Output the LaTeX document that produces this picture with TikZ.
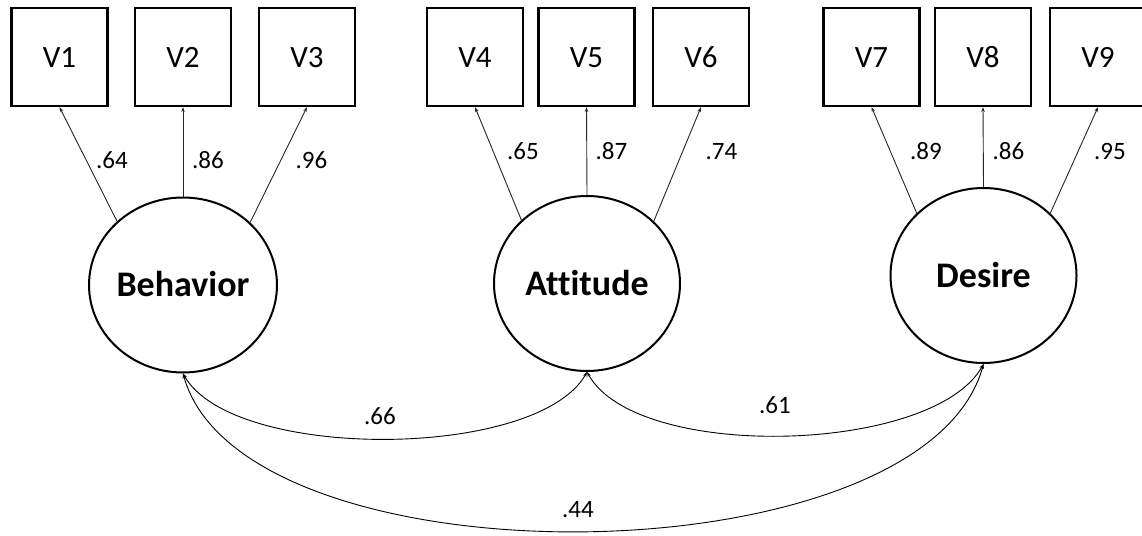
\documentclass[tikz,border=0pt]{standalone}
\usepackage{fontspec}
\setmainfont{Carlito}[Ligatures=NoCommon]
\usetikzlibrary{arrows.meta,shapes.geometric}

\begin{document}
\begin{tikzpicture}[x=1pt,y=-1pt,>={Stealth[length=5pt,width=3.5pt]},
  obs/.style={draw,line width=2.2pt,minimum width=96pt,minimum height=98pt,inner sep=0pt,text height=20pt,text depth=0pt,font=\fontsize{31}{31}\selectfont},
  lat/.style={draw,ellipse,line width=2pt,minimum width=186pt,minimum height=175pt,inner sep=0pt,text height=23pt,text depth=0pt,font=\bfseries\fontsize{36}{36}\selectfont},
  coef/.style={inner sep=0pt,text height=16pt,text depth=0pt,font=\fontsize{25}{25}\selectfont},
  load/.style={->,line width=0.9pt,draw=black!85}]
  \useasboundingbox (0,0) rectangle (1142,535);
  \node[obs] (V1) at (59.5,57) {V1};
  \node[obs] (V2) at (183,57) {V2};
  \node[obs] (V3) at (307,57) {V3};
  \node[obs] (V4) at (475,57) {V4};
  \node[obs] (V5) at (586.5,57) {V5};
  \node[obs] (V6) at (701,57) {V6};
  \node[obs] (V7) at (871.5,57) {V7};
  \node[obs] (V8) at (983,57) {V8};
  \node[obs] (V9) at (1098,57) {V9};
  \node[lat] (Behavior) at (183,285) {Behavior};
  \node[lat] (Attitude) at (587,283.5) {Attitude};
  \node[lat] (Desire) at (983.5,275.5) {Desire};
  \draw[load] (Behavior.136) -- (V1.south);
  \draw[load] (Behavior.north) -- (V2.south);
  \draw[load] (Behavior.43) -- (V3.south);
  \draw[load] (Attitude.136) -- (V4.south);
  \draw[load] (Attitude.north) -- (V5.south);
  \draw[load] (Attitude.43) -- (V6.south);
  \draw[load] (Desire.137) -- (V7.south);
  \draw[load] (Desire.north) -- (V8.south);
  \draw[load] (Desire.43) -- (V9.south);
  \node[coef] (l1) at (112,160) {.64};
  \node[coef] (l2) at (208,160) {.86};
  \node[coef] (l3) at (311.5,160) {.96};
  \node[coef] (l4) at (523,151) {.65};
  \node[coef] (l5) at (611.5,151) {.87};
  \node[coef] (l6) at (721.5,151) {.74};
  \node[coef] (l7) at (926,151) {.89};
  \node[coef] (l8) at (1008.5,151) {.86};
  \node[coef] (l9) at (1110,151) {.95};
  \draw[<->,line width=0.9pt] (Behavior.south) .. controls +(50,88) and +(-50,88) .. (Attitude.south);
  \draw[<->,line width=0.9pt] (Attitude.south) .. controls +(50,90) and +(-50,90) .. (Desire.south);
  \draw[<->,line width=0.9pt] (Behavior.south) .. controls +(60,215) and +(-60,218) .. (Desire.south);
  \node[coef] (c1) at (380,416) {.66};
  \node[coef] (c2) at (775,405) {.61};
  \node[coef] (c3) at (578,509) {.44};
\end{tikzpicture}
\end{document}
